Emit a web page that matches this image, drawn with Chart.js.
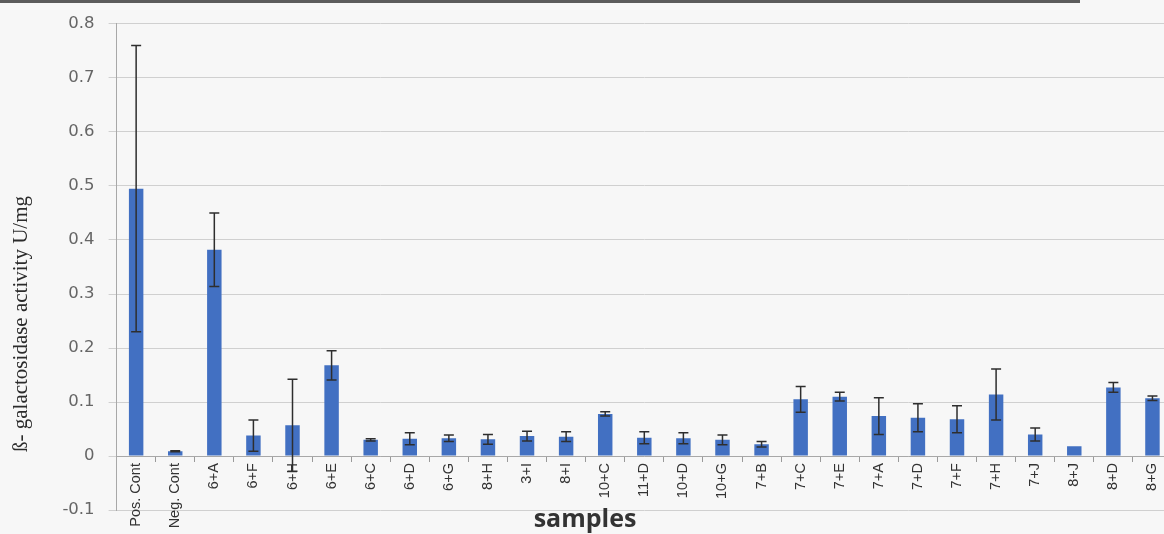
<!DOCTYPE html>
<html>
<head>
<meta charset="utf-8">
<script src="https://cdn.jsdelivr.net/npm/chart.js@4.4.1/dist/chart.umd.min.js"></script>
<style>
  html, body { margin: 0; padding: 0; background: #f7f7f7; overflow: hidden; }
  #wrap { position: relative; width: 1164px; height: 534px; overflow: hidden; }
  #frame { position: absolute; left: 0; top: 0; width: 1080px; height: 3px; background: #5c5c5c; }
  #chart-box { position: absolute; left: 0; top: 0; width: 1180px; height: 534px; }
</style>
</head>
<body>
<div id="wrap">
  <div id="chart-box"><canvas id="c" width="1180" height="534"></canvas></div>
  <div id="frame"></div>
</div>
<script>
// Sample names along the category axis
const samples = ['Pos. Cont', 'Neg. Cont', '6+A', '6+F', '6+H', '6+E', '6+C', '6+D', '6+G',
  '8+H', '3+I', '8+I', '10+C', '11+D', '10+D', '10+G', '7+B', '7+C', '7+E', '7+A',
  '7+D', '7+F', '7+H', '7+J', '8+J', '8+D', '8+G'];

// Mean β-galactosidase activity (U/mg)
const activity = [0.495, 0.009, 0.382, 0.038, 0.057, 0.168, 0.030, 0.032, 0.033,
  0.031, 0.037, 0.036, 0.078, 0.034, 0.033, 0.030, 0.022, 0.105, 0.110, 0.074,
  0.071, 0.068, 0.114, 0.040, 0.018, 0.127, 0.107];

// Standard deviation for each sample
const deviation = [0.265, 0.001, 0.068, 0.029, 0.085, 0.027, 0.002, 0.011, 0.006,
  0.009, 0.009, 0.009, 0.004, 0.011, 0.010, 0.009, 0.005, 0.024, 0.008, 0.034,
  0.026, 0.025, 0.047, 0.012, 0.000, 0.009, 0.004];

// Value axis range and step
const yMin = -0.1;
const yMax = 0.8;
const yStep = 0.1;

const yTitle = 'ß- galactosidase activity U/mg';
const xTitle = 'samples';

// Draws ± deviation whiskers on top of the bars
const errorBars = {
  id: 'errorBars',
  afterDatasetsDraw(chart) {
    const { ctx, scales: { x, y } } = chart;
    ctx.save();
    ctx.strokeStyle = '#2e2e2e';
    ctx.lineWidth = 1.5;
    activity.forEach((v, i) => {
      const d = deviation[i];
      if (!d) return;
      const px = x.getPixelForValue(i);
      const top = y.getPixelForValue(v + d);
      const bot = y.getPixelForValue(v - d);
      ctx.beginPath();
      ctx.moveTo(px, top); ctx.lineTo(px, bot);
      ctx.moveTo(px - 5, top); ctx.lineTo(px + 5, top);
      ctx.moveTo(px - 5, bot); ctx.lineTo(px + 5, bot);
      ctx.stroke();
    });
    ctx.restore();
  }
};

// Axis titles placed freely around the plot
const axisTitles = {
  id: 'axisTitles',
  afterDraw(chart) {
    const { ctx } = chart;
    ctx.save();
    ctx.fillStyle = '#2b2b2b';
    ctx.font = '21px "Liberation Serif"';
    ctx.textAlign = 'center';
    ctx.textBaseline = 'middle';
    ctx.translate(21, 324);
    ctx.rotate(-Math.PI / 2);
    ctx.fillText(yTitle, 0, 0);
    ctx.restore();

    ctx.save();
    ctx.fillStyle = '#333333';
    ctx.font = 'bold 25px "Open Sans"';
    ctx.textAlign = 'center';
    ctx.textBaseline = 'alphabetic';
    ctx.fillText(xTitle, 585, 527);
    ctx.restore();
  }
};

new Chart(document.getElementById('c'), {
  type: 'bar',
  data: {
    labels: samples,
    datasets: [{
      data: activity,
      backgroundColor: '#4270c2',
      borderWidth: 0,
      barPercentage: 0.37,
      categoryPercentage: 1.0
    }]
  },
  options: {
    responsive: false,
    animation: false,
    devicePixelRatio: 1,
    layout: { padding: { left: 0, right: 8, top: 17, bottom: 22 } },
    plugins: { legend: { display: false }, tooltip: { enabled: false } },
    scales: {
      x: {
        position: { y: 0 },
        afterFit(scale) { scale.height = 0; },
        grid: {
          display: true,
          offset: true,
          drawOnChartArea: false,
          drawTicks: true,
          tickLength: 5,
          color: '#9a9a9a'
        },
        border: { display: true, color: '#a8a8a8', width: 1 },
        ticks: {
          autoSkip: false,
          maxRotation: 90,
          minRotation: 90,
          padding: 2,
          color: '#333333',
          font: { family: '"Liberation Sans"', size: 14.5 }
        }
      },
      y: {
        min: yMin,
        max: yMax,
        afterFit(scale) { scale.width = 116.6; },
        grid: {
          color: '#d0d0d0',
          lineWidth: 1,
          tickLength: 8,
          drawTicks: true
        },
        border: { display: true, color: '#a8a8a8', width: 1 },
        ticks: {
          stepSize: yStep,
          padding: 14,
          color: '#666666',
          font: { family: '"DejaVu Sans"', size: 16.5 },
          callback: (v) => {
            const r = Math.round(v * 10) / 10;
            return r === 0 ? '0' : r.toFixed(1);
          }
        }
      }
    }
  },
  plugins: [errorBars, axisTitles]
});
</script>
</body>
</html>
